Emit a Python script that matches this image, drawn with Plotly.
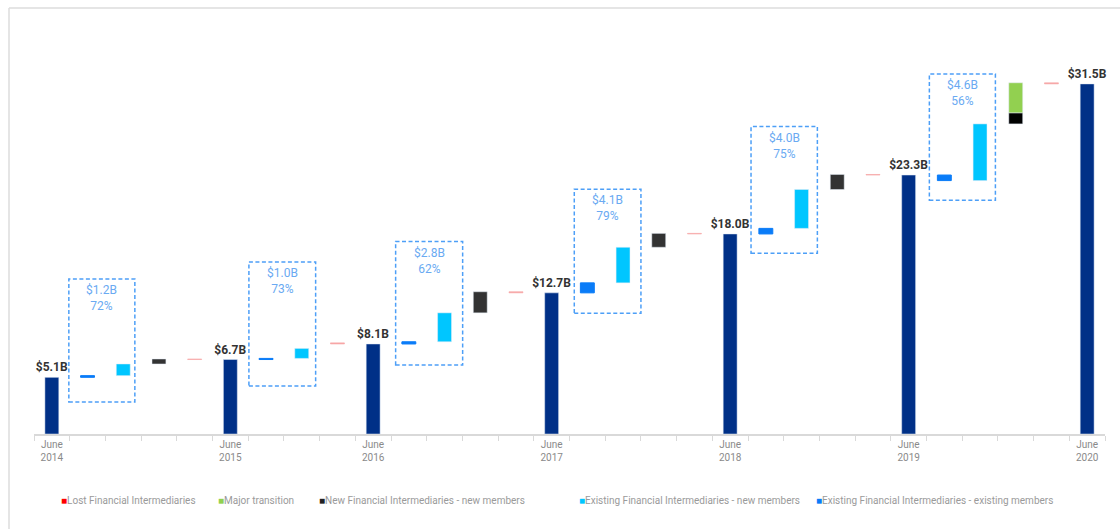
import plotly.graph_objects as go

# ---- data ($ billions) ----
periods = ["June<br>2014", "June<br>2015", "June<br>2016", "June<br>2017",
           "June<br>2018", "June<br>2019", "June<br>2020"]
totals = [5.1, 6.7, 8.1, 12.7, 18.0, 23.3, 31.5]
existing_existing = [0.15, 0.1, 0.2, 0.9, 0.5, -0.5]
existing_new = [1.05, 0.9, 2.6, 3.2, 3.5, 5.1]
new_fi = [0.45, None, 1.9, 1.25, 1.35, 1.0]
major_transition = [None, None, None, None, None, 2.7]
lost = [-0.05, -0.1, -0.1, -0.05, -0.05, -0.1]
box_amount = ["$1.2B", "$1.0B", "$2.8B", "$4.1B", "$4.0B", "$4.6B"]
box_share = ["72%", "73%", "62%", "79%", "75%", "56%"]

# ---- colours ----
C_TOTAL = "#003087"
C_EE = "#0a7cf8"
C_EN = "#00c6ff"
C_NEW = "#333333"
C_MAJOR = "#92d050"
C_LOST = "#ff0000"
C_BOX = "#4d9ff7"
C_BOXTXT = "#6aaaf2"

# ---- walk the waterfall, one slot per step ----
total_x = []
ee_x, ee_base = [], []
en_x, en_base = [], []
nf_x, nf_base, nf_val, nf_col = [], [], [], []
mt_x, mt_base, mt_val = [], [], []
lost_x, lost_base, lost_val = [], [], []

slot = 0
for i in range(len(existing_new)):
    total_x.append(slot)
    level = totals[i]
    slot += 1
    ee_x.append(slot); ee_base.append(level); level += existing_existing[i]
    slot += 1
    en_x.append(slot); en_base.append(level); level += existing_new[i]
    if new_fi[i] is not None or major_transition[i] is not None:
        slot += 1
        if new_fi[i] is not None:
            nf_x.append(slot); nf_base.append(level); nf_val.append(new_fi[i])
            # the segment sitting under a major transition is drawn solid black
            nf_col.append("#000000" if major_transition[i] is not None else C_NEW)
            level += new_fi[i]
        if major_transition[i] is not None:
            mt_x.append(slot); mt_base.append(level); mt_val.append(major_transition[i])
            level += major_transition[i]
    slot += 1
    # lost intermediaries: a small drop that lands on the next period total
    lost_x.append(slot); lost_base.append(totals[i + 1]); lost_val.append(-lost[i])
    slot += 1
total_x.append(slot)
n_slots = slot + 1

BW = 0.39
fig = go.Figure()
fig.add_bar(x=total_x, y=totals, width=BW, marker_color=C_TOTAL,
            text=[f"${v:.1f}B" for v in totals], textposition="outside",
            constraintext="none",
            textfont=dict(family="Roboto", size=12, color="#333333", weight="bold"),
            cliponaxis=False, name="Total")
fig.add_bar(x=ee_x, y=existing_existing, base=ee_base, width=BW,
            marker=dict(color=C_EE, line=dict(color=C_EE, width=1)),
            name="Existing Financial Intermediaries - existing members")
fig.add_bar(x=en_x, y=existing_new, base=en_base, width=BW, marker_color=C_EN,
            name="Existing Financial Intermediaries - new members")
fig.add_bar(x=nf_x, y=nf_val, base=nf_base, width=BW, marker_color=nf_col,
            name="New Financial Intermediaries - new members")
fig.add_bar(x=mt_x, y=mt_val, base=mt_base, width=BW, marker_color=C_MAJOR,
            name="Major transition")
fig.add_bar(x=lost_x, y=lost_val, base=lost_base, width=BW,
            marker=dict(color="#f6a5a5", line=dict(color="#f6a5a5", width=0.6)),
            name="Lost Financial Intermediaries")

# ---- page geometry (pixels) ----
W, H = 1120, 529
ML, MR, MT, MB = 34, 15, 45, 95
PW, PH = W - ML - MR, H - MT - MB


def px_x(px):
    return (px - ML) / PW


def px_y(py):
    return (H - MB - py) / PH


shapes = []
annotations = []

# dashed boxes around the existing-intermediary steps
box_dx = [(-0.524, 1.325), (-0.48, 1.389), (-0.37, 1.507),
          (-0.366, 1.501), (-0.415, 1.443), (-0.42, 1.43)]
box_y = [(2.88, 13.95), (4.32, 15.48), (6.21, 17.31),
         (10.86, 22.02), (16.26, 27.66), (21.03, 32.40)]
for i, xs in enumerate(ee_x):
    x0, x1 = xs + box_dx[i][0], xs + box_dx[i][1]
    y0, y1 = box_y[i]
    shapes.append(dict(type="rect", xref="x", yref="y", x0=x0, x1=x1, y0=y0, y1=y1,
                       line=dict(color=C_BOX, width=1.5, dash="4px,2.5px"),
                       fillcolor="rgba(0,0,0,0)", layer="above"))
    annotations.append(dict(x=(x0 + x1) / 2, y=y1, xref="x", yref="y",
                            text=f"{box_amount[i]}<br>{box_share[i]}",
                            showarrow=False, yanchor="top", yshift=-2,
                            font=dict(family="Roboto", size=12, color=C_BOXTXT)))

# light frame around the chart
shapes.append(dict(type="line", xref="paper", yref="paper",
                   x0=px_x(9), x1=px_x(W + 5), y0=px_y(8), y1=px_y(8),
                   line=dict(color="#dddddd", width=1.5)))
shapes.append(dict(type="line", xref="paper", yref="paper",
                   x0=px_x(9), x1=px_x(9), y0=px_y(8), y1=px_y(H + 5),
                   line=dict(color="#dddddd", width=1.5)))

# legend row
legend_items = [
    ("Lost Financial Intermediaries", C_LOST, 59),
    ("Major transition", C_MAJOR, 216),
    ("New Financial Intermediaries - new members", "#222222", 317),
    ("Existing Financial Intermediaries - new members", C_EN, 577),
    ("Existing Financial Intermediaries - existing members", C_EE, 814),
]
for label, col, px in legend_items:
    annotations.append(dict(
        x=px_x(px), y=px_y(500), xref="paper", yref="paper",
        xanchor="left", yanchor="middle", showarrow=False,
        text=f"<span style='color:{col}'>■</span>{label}",
        font=dict(family="Roboto", size=10, color="#9a9a9a")))

fig.update_layout(
    width=W, height=H,
    margin=dict(l=ML, r=MR, t=MT, b=MB, autoexpand=False),
    paper_bgcolor="white", plot_bgcolor="white",
    barmode="overlay", showlegend=False,
    shapes=shapes, annotations=annotations,
    font=dict(family="Roboto"),
    xaxis=dict(range=[-0.5, n_slots - 0.5], tickmode="array", tickvals=total_x,
               ticktext=periods, ticks="", showgrid=False, zeroline=False,
               showline=True, linecolor="#d9d9d9", linewidth=1.5,
               tickfont=dict(family="Roboto", size=10, color="#8a8a8a"),
               minor=dict(ticks="outside", tick0=-0.5, dtick=1, ticklen=5,
                          tickcolor="#d9d9d9", tickwidth=1, showgrid=False)),
    yaxis=dict(range=[0, 35], visible=False, showgrid=False, zeroline=False),
)

fig.write_html("out.html")
